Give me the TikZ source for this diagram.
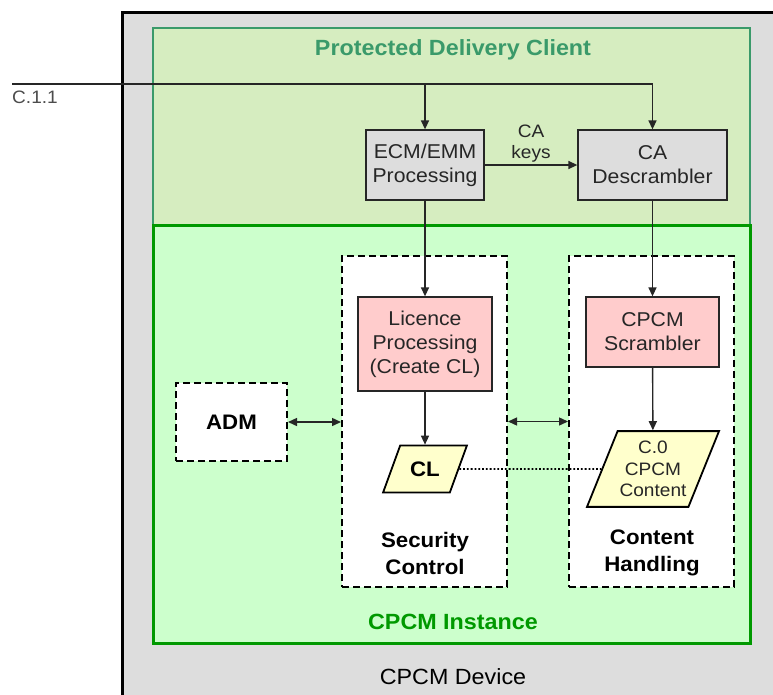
\documentclass[tikz,border=0pt]{standalone}
\usepackage{fontspec}
\setmainfont{Liberation Sans}[FakeStretch=1.06]
\usetikzlibrary{arrows.meta,shapes.geometric}
\definecolor{devgray}{HTML}{DDDDDD}
\definecolor{pdcfill}{HTML}{D6EDC0}
\definecolor{pdcline}{HTML}{3A9A6A}
\definecolor{instfill}{HTML}{CCFFCC}
\definecolor{instline}{HTML}{009900}
\definecolor{procfill}{HTML}{DDDDDD}
\definecolor{licfill}{HTML}{FFCCCC}
\definecolor{datafill}{HTML}{FFFFCC}
\definecolor{linegray}{HTML}{262626}
\begin{document}
\begin{tikzpicture}[x=1pt,y=-1pt,
  txt/.style={font=\fontsize{20}{24}\selectfont, text=black!85},
  small/.style={font=\fontsize{18}{21.5}\selectfont, text=black!85},
  proc/.style={draw=linegray, line width=1.3pt, fill=procfill, align=center, inner sep=0pt, txt},
  data/.style={trapezium, trapezium left angle=68, trapezium right angle=112,
    draw=black, line width=1.8pt, fill=datafill, align=center},
  part/.style={draw=black, dash pattern=on 7pt off 4pt, line width=2pt, fill=white},
  flow/.style={draw=linegray, line width=1.4pt, -{Triangle[length=9pt,width=8pt]}},
  both/.style={flow, {Triangle[length=9pt,width=8pt]}-{Triangle[length=9pt,width=8pt]}},
  title/.style={font=\fontsize{22}{26}\selectfont\bfseries},
  lab/.style={font=\fontsize{21}{27}\selectfont\bfseries, align=center}]

\useasboundingbox (0,0) rectangle (773,694);
\clip (0,0) rectangle (773,694);

% device, client and instance
\draw[line width=3pt, fill=devgray] (122,12) rectangle (790,710);
\draw[line width=2.8pt, draw=pdcline, fill=pdcfill] (153,28) rectangle (750,225);
\draw[line width=3pt, draw=instline, fill=instfill] (153,225) rectangle (750,643);
\node[title, text=pdcline] (pdc) at (453,50) {Protected Delivery Client};
\node[title, text=instline] (inst) at (453,622) {CPCM Instance};
\node[font=\fontsize{22}{26}\selectfont] (dev) at (453,677) {CPCM Device};

% dashed parts
\node[part, minimum width=165pt, minimum height=331pt] (sec) at (424.5,421.5) {};
\node[part, minimum width=165pt, minimum height=331pt] (cont) at (651.5,421.5) {};
\node[part, lab, minimum width=111pt, minimum height=78pt] (adm) at (231.5,422) {ADM};
\node[lab] (seclab) at (425,553) {Security\\Control};
\node[lab] (contlab) at (652,553) {Content\\Handling};

% boxes
\node[proc, minimum width=118pt, minimum height=70pt] (ecm) at (425,165) {ECM/EMM\\Processing};
\node[proc, minimum width=149pt, minimum height=70pt] (desc) at (652.5,165) {CA\\Descrambler};
\node[proc, fill=licfill, minimum width=134pt, minimum height=94pt] (lic) at (425,344) {Licence\\Processing\\(Create CL)};
\node[proc, fill=licfill, minimum width=133pt, minimum height=70pt] (scr) at (652.5,332) {CPCM\\Scrambler};
\node[data, lab, trapezium left angle=70, trapezium right angle=110, inner xsep=10pt, inner ysep=16pt] (cl) at (425,469) {CL};
\node[data, small, inner xsep=2pt, inner ysep=10pt] (data) at (653,469) {C.0\\CPCM\\Content};

% input
\coordinate (c11) at (12,84);
\node[small, text=black!70, anchor=north west, inner sep=0pt] (c11lab) at (12,91) {C.1.1};
\draw[flow] (c11) -- (c11 -| desc.north) -- (desc.north);
\draw[flow] (c11 -| ecm.north) -- (ecm.north);

% flows
\draw[flow] (ecm) -- node[small, above, inner sep=2pt, align=center] (keys) {CA\\keys} (desc);
\draw[flow] (ecm) -- (lic);
\draw[flow] (desc) -- (scr);
\draw[flow] (lic) -- (cl);
\draw[flow] (scr) -- (data);
\draw[both] (adm.east) -- (adm.east -| sec.west);
\draw[both] (sec.east) -- (cont.west);
\draw[dotted, line width=1.8pt] (cl.east) -- (data.west);
\end{tikzpicture}
\end{document}
